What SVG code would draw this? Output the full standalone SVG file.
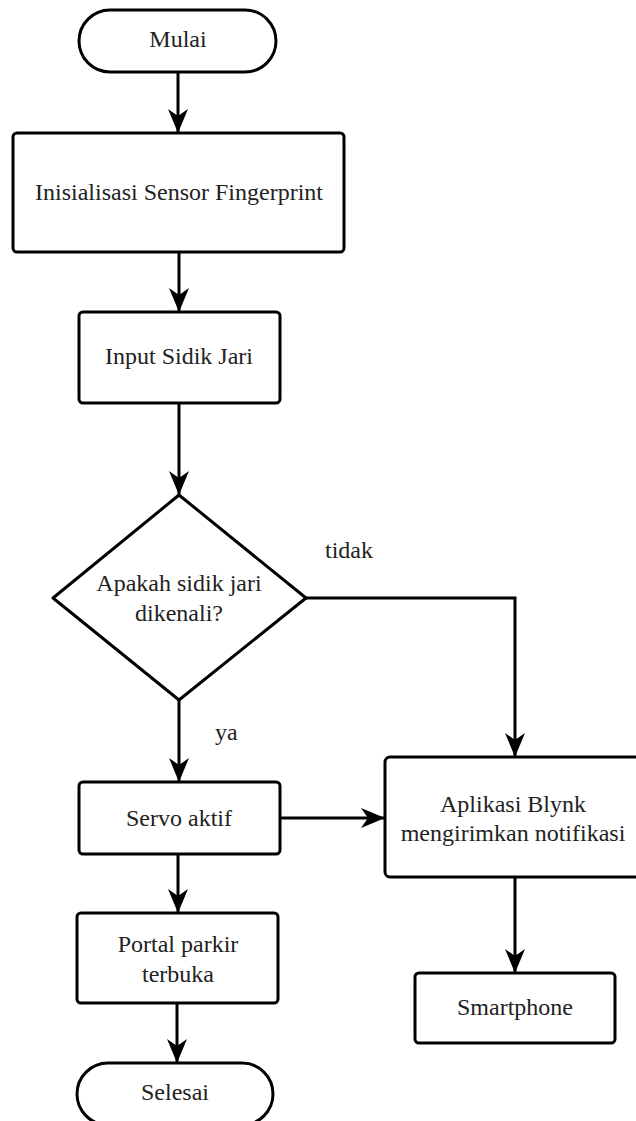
<svg xmlns="http://www.w3.org/2000/svg" width="636" height="1121" viewBox="0 0 636 1121">
<style>
.s{fill:#fff;stroke:#000;stroke-width:3;stroke-linejoin:round}
text{font-family:'Liberation Serif','Tinos','Times New Roman','DejaVu Serif',serif;font-size:24px;fill:#222}
.t{text-anchor:middle}
.c{fill:none;stroke:#000;stroke-width:3;marker-end:url(#a)}
</style>
<defs>
<marker id="a" markerUnits="userSpaceOnUse" markerWidth="25" markerHeight="22" refX="23" refY="11" orient="auto">
<path d="M0,1 L24,11 L0,21 L7,11 Z" fill="#000"/>
</marker>
</defs>
<rect width="636" height="1121" fill="#fff"/>
<g id="connectors">
<path class="c" d="M178,72 V132"/>
<path class="c" d="M179,252 V311"/>
<path class="c" d="M179,403 V494"/>
<path class="c" d="M179,700 V781"/>
<path class="c" d="M306,598 H515 V756"/>
<path class="c" d="M280,818 H384"/>
<path class="c" d="M178,854 V912"/>
<path class="c" d="M177,1003 V1062"/>
<path class="c" d="M515,877 V972"/>
</g>
<g id="mulai">
<rect class="s" x="79" y="10" width="197" height="62" rx="31"/>
<text class="t" x="178" y="47">Mulai</text>
</g>
<g id="inisialisasi">
<rect class="s" x="13" y="133" width="331" height="119" rx="4"/>
<text class="t" x="179" y="200">Inisialisasi Sensor Fingerprint</text>
</g>
<g id="input">
<rect class="s" x="79" y="312" width="201" height="91" rx="4"/>
<text class="t" x="179" y="364">Input Sidik Jari</text>
</g>
<g id="decision">
<path class="s" d="M179,495 L306,598 L179,700 L53,598 Z"/>
<text class="t" x="179" y="591">Apakah sidik jari</text>
<text class="t" x="179" y="621">dikenali?</text>
</g>
<text x="325" y="558">tidak</text>
<text x="215" y="740">ya</text>
<g id="servo">
<rect class="s" x="79" y="782" width="201" height="72" rx="4"/>
<text class="t" x="179" y="826">Servo aktif</text>
</g>
<g id="aplikasi">
<rect class="s" x="385" y="757" width="262" height="120" rx="5"/>
<text class="t" x="513" y="812">Aplikasi Blynk</text>
<text class="t" x="513" y="841">mengirimkan notifikasi</text>
</g>
<g id="portal">
<rect class="s" x="77" y="913" width="201" height="90" rx="4"/>
<text class="t" x="178" y="952">Portal parkir</text>
<text class="t" x="178" y="982">terbuka</text>
</g>
<g id="smartphone">
<rect class="s" x="415" y="973" width="200" height="70" rx="4"/>
<text class="t" x="515" y="1015">Smartphone</text>
</g>
<g id="selesai">
<rect class="s" x="77" y="1063" width="196" height="62" rx="31"/>
<text class="t" x="175" y="1100">Selesai</text>
</g>
</svg>
